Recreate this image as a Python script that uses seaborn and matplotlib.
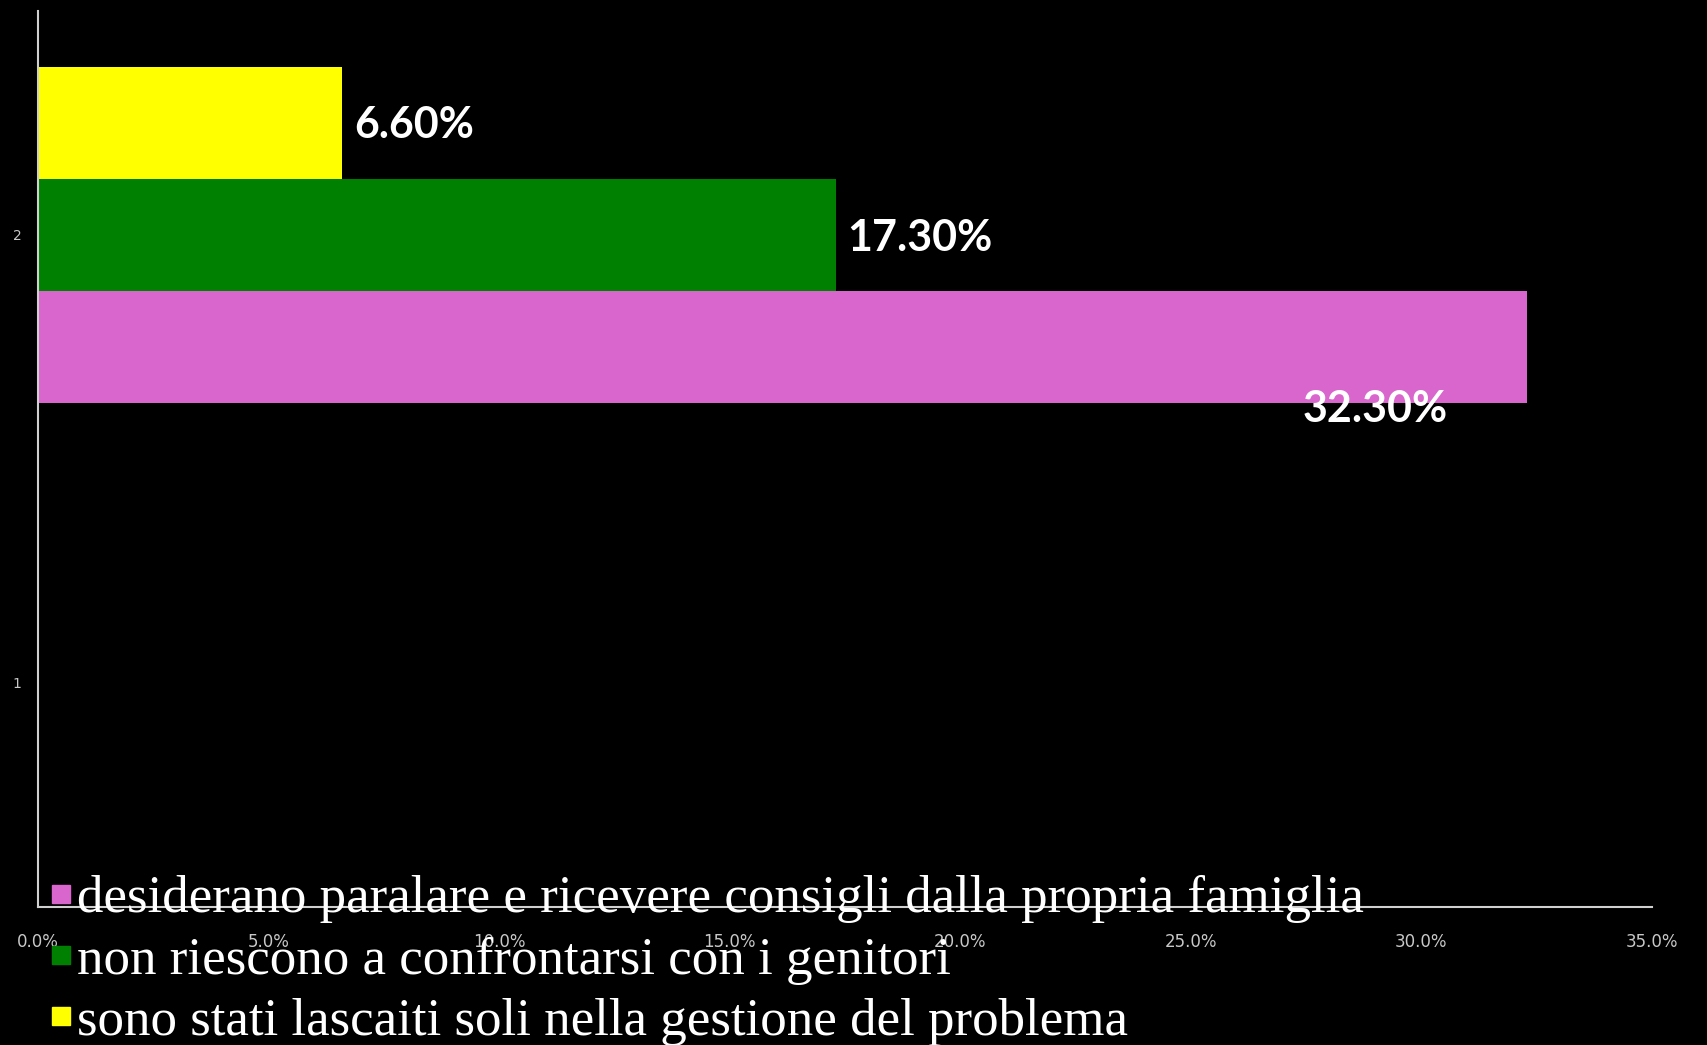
import matplotlib
matplotlib.use("Agg")
import matplotlib.pyplot as plt
from matplotlib.lines import Line2D
from matplotlib.ticker import FuncFormatter, MultipleLocator
import seaborn as sns
import pandas as pd

# ---- data ----
categories = ["2", "1"]           # top to bottom
series = [
    "desiderano paralare e ricevere consigli dalla propria famiglia",
    "non riescono a confrontarsi con i genitori",
    "sono stati lascaiti soli nella gestione del problema",
]
values = [32.3, 17.3, 6.6]        # values in category "2"
value_category = ["2", "2", "2"]
colors = ["#D966CC", "#008000", "#FFFF00"]

df = pd.DataFrame({"cat": value_category, "serie": series, "val": values})

# ---- figure ----
W, H = 1707, 1045
fig = plt.figure(figsize=(W / 100, H / 100), dpi=100, facecolor="black")
ax = fig.add_axes([38 / W, 1 - 907 / H, (1652 - 38) / W, (907 - 11) / H])
ax.set_facecolor("black")

palette = dict(zip(series, colors))
sns.barplot(data=df, x="val", y="cat", hue="serie", order=categories,
            hue_order=series[::-1], palette=palette, orient="h",
            width=0.75, saturation=1, legend=False, ax=ax, errorbar=None,
            linewidth=0)

ax.set_xlim(0, 35)
ax.xaxis.set_major_locator(MultipleLocator(5))
ax.xaxis.set_major_formatter(FuncFormatter(lambda v, p: f"{v:.1f}%"))
ax.set_xlabel("")
ax.set_ylabel("")
ax.grid(False)

for s in ["top", "right"]:
    ax.spines[s].set_visible(False)
for s in ["left", "bottom"]:
    ax.spines[s].set_color("#D0D0D0")
    ax.spines[s].set_linewidth(1.5)

ax.tick_params(axis="x", length=0, pad=19, labelsize=12, labelcolor="#C8C8C8")
ax.tick_params(axis="y", length=0, pad=12, labelsize=10, labelcolor="#C8C8C8")

# ---- data labels ----
label_offsets = {series[0]: (-80, -62, "right"),
                 series[1]: (11, -3, "left"),
                 series[2]: (12, -2, "left")}
for cont, name in zip(ax.containers, series[::-1]):
    for bar in cont:
        v = bar.get_width()
        yc = bar.get_y() + bar.get_height() / 2
        dx, dy, ha = label_offsets[name]
        ax.annotate(f"{v:.2f}%", xy=(v, yc), xytext=(dx, dy),
                    textcoords="offset pixels", ha=ha, va="center",
                    color="white", fontsize=31, fontweight="bold",
                    family=["Lato", "DejaVu Sans"])

# ---- legend ----
handles = [Line2D([], [], marker="s", linestyle="none", markersize=13,
                  markerfacecolor=c, markeredgecolor=c) for c in colors]
leg = fig.legend(handles, series, loc="upper left",
                 bbox_to_anchor=(52 / W, 1 - 875 / H),
                 frameon=False, borderpad=0, borderaxespad=0,
                 handlelength=0.34, handletextpad=0.13, labelspacing=0.25,
                 prop={"family": "Liberation Serif", "size": 38.2})
for t in leg.get_texts():
    t.set_color("white")

fig.savefig("out.png", dpi=100, facecolor="black")
